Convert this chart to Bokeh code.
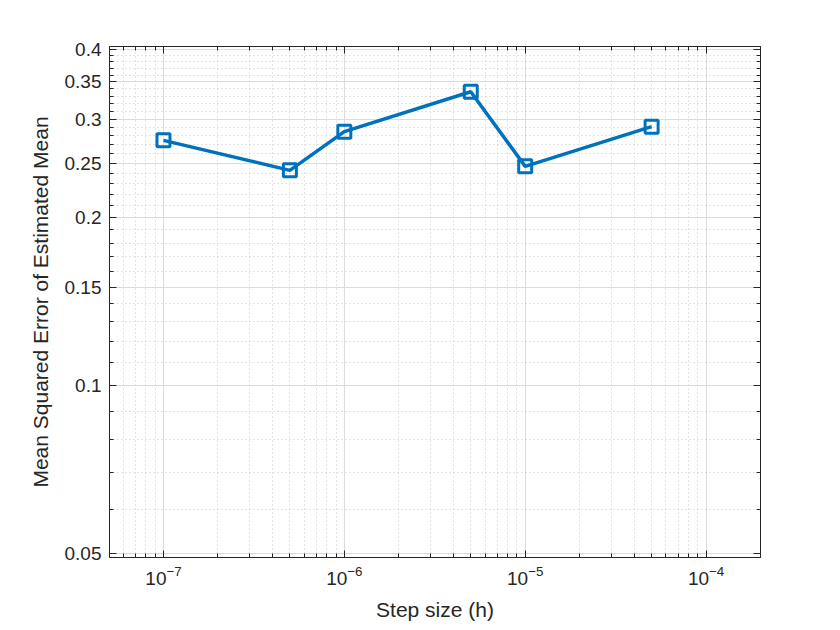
from bokeh.plotting import figure
from bokeh.models import FixedTicker, LogAxis, CustomJSTickFormatter
from bokeh.embed import file_html
from bokeh.resources import INLINE

# Data
step_sizes = [1e-7, 5e-7, 1e-6, 5e-6, 1e-5, 5e-5]
mse = [0.275, 0.243, 0.285, 0.336, 0.247, 0.291]

x_ticks = [1e-7, 1e-6, 1e-5, 1e-4]
y_ticks = [0.05, 0.1, 0.15, 0.2, 0.25, 0.3, 0.35, 0.4]
y_tick_labels = ["0.05", "0.1", "0.15", "0.2", "0.25", "0.3", "0.35", "0.4"]

x_minor = [m * 10.0 ** e for e in range(-8, -3) for m in range(2, 10)]
y_minor = [round(0.05 + 0.01 * i, 2) for i in range(0, 36)]

TXT = "#262626"
FONT = "Liberation Sans"
BLUE = "#0072BD"

p = figure(width=820, height=625, x_axis_type="log", y_axis_type="log",
           x_range=(5.03e-8, 2.0e-4), y_range=(0.0492, 0.405),
           output_backend="svg", toolbar_location=None,
           min_border_left=109, min_border_right=60, min_border_top=46, min_border_bottom=68,
           background_fill_color="white", border_fill_color="white")

bottom = p.below[0]
left = p.left[0]

xt = FixedTicker(ticks=x_ticks, minor_ticks=x_minor)
yt = FixedTicker(ticks=y_ticks, minor_ticks=y_minor)
yfmt = CustomJSTickFormatter(args=dict(t=y_ticks, l=y_tick_labels), code="""
for (let i = 0; i < t.length; i++) { if (Math.abs(t[i] - tick) < 1e-9) return l[i]; }
return '';
""")

bottom.ticker = xt
left.ticker = yt
left.formatter = yfmt

# extra box axes (no labels)
top = LogAxis(ticker=FixedTicker(ticks=x_ticks, minor_ticks=x_minor),
              formatter=CustomJSTickFormatter(code="return '';"),
              major_label_standoff=0)
right = LogAxis(ticker=FixedTicker(ticks=y_ticks, minor_ticks=y_minor),
                formatter=CustomJSTickFormatter(code="return '';"),
                major_label_standoff=0)
p.add_layout(top, "above")
p.add_layout(right, "right")

for ax in [bottom, left, top, right]:
    ax.axis_line_color = TXT
    ax.axis_line_width = 1
    ax.major_tick_line_color = TXT
    ax.minor_tick_line_color = TXT
    ax.major_tick_in = 7
    ax.major_tick_out = 0
    ax.minor_tick_in = 4
    ax.minor_tick_out = 0
    ax.major_label_text_color = TXT
    ax.major_label_text_font = FONT
    ax.axis_label_text_color = TXT
    ax.axis_label_text_font = FONT
    ax.axis_label_text_font_style = "normal"

bottom.major_label_text_font_size = "19px"
left.major_label_text_font_size = "19px"
bottom.major_label_standoff = 8
left.major_label_standoff = 8
bottom.axis_label = "Step size (h)"
left.axis_label = "Mean Squared Error of Estimated Mean"
bottom.axis_label_text_font_size = "21px"
left.axis_label_text_font_size = "21px"
bottom.axis_label_standoff = 10
left.axis_label_standoff = 10

for g in [p.xgrid[0], p.ygrid[0]]:
    g.grid_line_color = "#dcdcdc"
    g.grid_line_width = 1
    g.minor_grid_line_color = "#c8c8c8"
    g.minor_grid_line_dash = "1 3"
    g.minor_grid_line_width = 1

p.outline_line_color = TXT
p.outline_line_width = 1

p.line(step_sizes, mse, line_color=BLUE, line_width=3.5)
p.scatter(step_sizes, mse, marker="square", size=13, line_color=BLUE, line_width=3, fill_color=None)

open("out.html", "w").write(file_html(p, INLINE))
